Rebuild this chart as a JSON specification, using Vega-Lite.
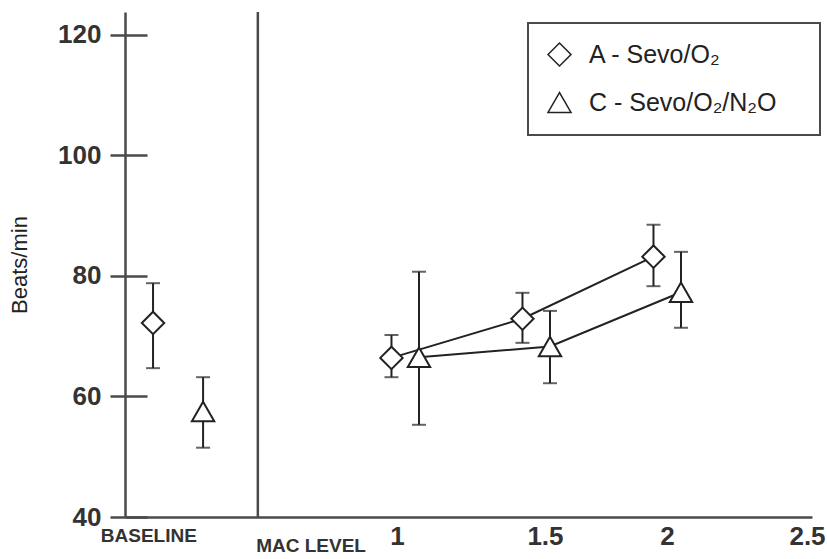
{
  "$schema": "https://vega.github.io/schema/vega-lite/v6.json",
  "width": 687,
  "height": 505,
  "autosize": {"type": "none"},
  "padding": {"left": 125, "top": 12, "right": 15, "bottom": 42},
  "background": "white",
  "config": {
    "view": {"stroke": null},
    "font": "Liberation Sans",
    "legend": {"strokeWidth": 2}
  },
  "datasets": {
    "pts": [
      {"group": "A - Sevo/O₂", "phase": "baseline", "x": -0.015, "y": 72.2, "lo": 64.7, "hi": 78.8},
      {"group": "C - Sevo/O₂/N₂O", "phase": "baseline", "x": 0.176, "y": 57.5, "lo": 51.5, "hi": 63.2},
      {"group": "A - Sevo/O₂", "phase": "mac", "x": 0.895, "y": 66.4, "lo": 63.2, "hi": 70.2},
      {"group": "C - Sevo/O₂/N₂O", "phase": "mac", "x": 1.0, "y": 66.5, "lo": 55.3, "hi": 80.7},
      {"group": "A - Sevo/O₂", "phase": "mac", "x": 1.395, "y": 72.9, "lo": 68.9, "hi": 77.2},
      {"group": "C - Sevo/O₂/N₂O", "phase": "mac", "x": 1.5, "y": 68.3, "lo": 62.2, "hi": 74.2},
      {"group": "A - Sevo/O₂", "phase": "mac", "x": 1.895, "y": 83.2, "lo": 78.3, "hi": 88.5},
      {"group": "C - Sevo/O₂/N₂O", "phase": "mac", "x": 2.0, "y": 77.3, "lo": 71.4, "hi": 84.0}
    ]
  },
  "layer": [
    {
      "data": {"values": [{"boundary": 0.385}]},
      "mark": {"type": "rule", "color": "#4a4a4a", "strokeWidth": 2.5},
      "encoding": {
        "x": {"field": "boundary", "type": "quantitative", "axis": {"title": null}}
      }
    },
    {
      "data": {"name": "pts"},
      "mark": {"type": "errorbar", "color": "#222", "ticks": {"size": 14, "thickness": 2, "color": "#222"}, "rule": {"strokeWidth": 2, "color": "#222"}},
      "encoding": {
        "x": {"field": "x", "type": "quantitative", "axis": {"title": null}},
        "y": {"field": "lo", "type": "quantitative", "axis": {"title": "Beats/min"}},
        "y2": {"field": "hi"}
      }
    },
    {
      "data": {"name": "pts"},
      "transform": [{"filter": "datum.phase == 'mac'"}],
      "mark": {"type": "line", "color": "#222", "strokeWidth": 2},
      "encoding": {
        "x": {"field": "x", "type": "quantitative", "axis": {"title": null}},
        "y": {"field": "y", "type": "quantitative", "axis": {"title": "Beats/min"}},
        "detail": {"field": "group"}
      }
    },
    {
      "data": {"name": "pts"},
      "mark": {"type": "point", "filled": true, "fill": "white", "stroke": "#222", "strokeWidth": 2, "opacity": 1, "size": 500},
      "encoding": {
        "x": {
          "field": "x", "type": "quantitative",
          "scale": {"domain": [-0.122, 2.5], "nice": false, "zero": false},
          "axis": {
            "values": [1, 1.5, 2, 2.5], "format": "~g", "title": null, "ticks": false, "grid": false,
            "labelPadding": 6, "labelFontSize": 26, "labelFontWeight": "bold", "labelColor": "#333",
            "labelFlush": false, "labelOverlap": false, "labelBound": false,
            "domainColor": "#4a4a4a", "domainWidth": 2.5,
            "labelOffset": {"condition": [
              {"test": "datum.value == 1", "value": -22},
              {"test": "datum.value == 1.5", "value": -5},
              {"test": "datum.value == 2", "value": -14}
            ], "value": -5}
          }
        },
        "y": {
          "field": "y", "type": "quantitative",
          "scale": {"domain": [40, 123.8], "nice": false, "zero": false},
          "axis": {
            "values": [40, 60, 80, 100, 120], "title": "Beats/min",
            "titleFontSize": 22, "titleFontWeight": "normal", "titleColor": "#222", "titlePadding": 26,
            "tickSize": 15, "tickWidth": 2.5, "tickColor": "#4a4a4a",
            "domainColor": "#4a4a4a", "domainWidth": 2.5,
            "labelFontSize": 26, "labelFontWeight": "bold", "labelColor": "#333", "labelPadding": 9, "labelFlush": false,
            "grid": true, "gridColor": "#4a4a4a", "gridWidth": 2.5, "gridDash": [22, 3000]
          }
        },
        "shape": {
          "field": "group", "type": "nominal",
          "scale": {"domain": ["A - Sevo/O₂", "C - Sevo/O₂/N₂O"], "range": ["diamond", "triangle-up"]},
          "legend": {
            "title": "\u00a0\u00a0", "titleOrient": "right", "titlePadding": 24, "titleFontSize": 25,
            "orient": "none", "legendX": 403, "legendY": 11,
            "padding": 19, "labelOffset": 17, "rowPadding": 20,
            "labelFontSize": 25, "labelColor": "#222", "labelLimit": 400,
            "symbolSize": 529,
            "strokeColor": "#4a4a4a"
          }
        }
      }
    },
    {
      "data": {"values": [{"label": "BASELINE", "x": -0.031}]},
      "mark": {"type": "text", "fontSize": 19, "fontWeight": "bold", "color": "#333", "align": "center", "baseline": "alphabetic", "dy": 25},
      "encoding": {
        "x": {"field": "x", "type": "quantitative", "axis": {"title": null}},
        "y": {"datum": 40, "axis": {"title": "Beats/min"}},
        "text": {"field": "label"}
      }
    },
    {
      "data": {"values": [{"label": "MAC LEVEL", "x": 0.588}]},
      "mark": {"type": "text", "fontSize": 19, "fontWeight": "bold", "color": "#333", "align": "center", "baseline": "alphabetic", "dy": 35},
      "encoding": {
        "x": {"field": "x", "type": "quantitative", "axis": {"title": null}},
        "y": {"datum": 40, "axis": {"title": "Beats/min"}},
        "text": {"field": "label"}
      }
    }
  ]
}
